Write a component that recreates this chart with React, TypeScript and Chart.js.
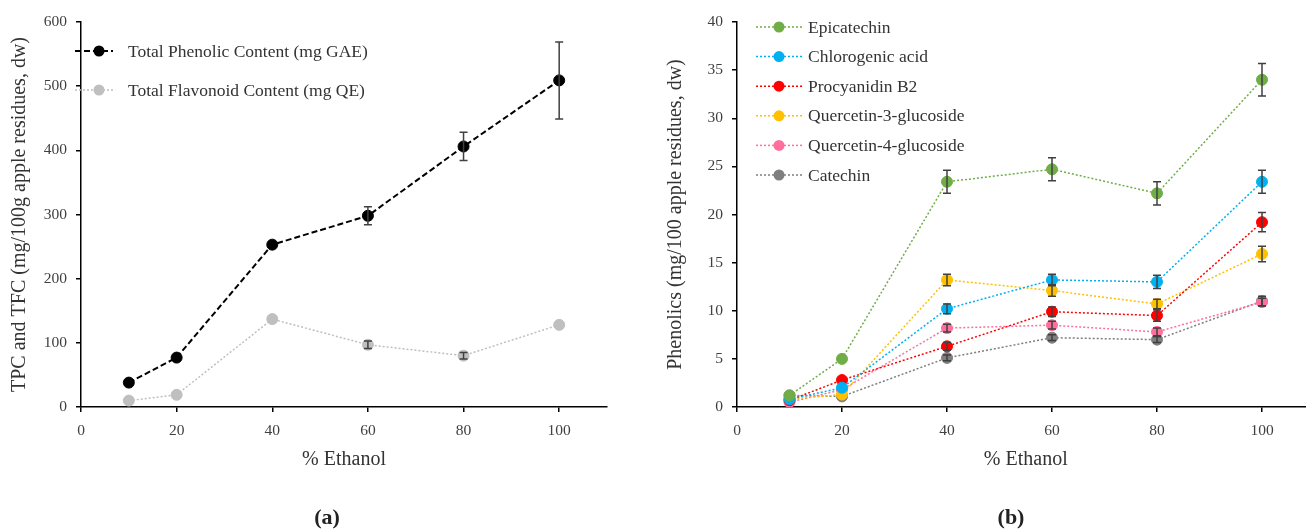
import React, { useEffect, useRef } from 'react';
import { Chart, registerables } from 'chart.js';

Chart.register(...registerables);

// ---------- data ----------
const ethanol = [10, 20, 40, 60, 80, 100];
const xTickValues = [0, 20, 40, 60, 80, 100];

const leftLabels = ['Total Phenolic Content (mg GAE)', 'Total Flavonoid Content (mg QE)'];
const tpc = [38, 77, 253, 298, 406, 509];
const tpcErr = [0, 0, 0, 14, 22, 60];
const tfc = [10, 19, 137, 97, 80, 128];
const tfcErr = [0, 0, 0, 6, 5, 0];

const rightLabels = [
  'Epicatechin',
  'Chlorogenic acid',
  'Procyanidin B2',
  'Quercetin-3-glucoside',
  'Quercetin-4-glucoside',
  'Catechin',
];
const epicatechin = [1.2, 5.0, 23.4, 24.7, 22.2, 34.0];
const epicatechinErr = [0, 0, 1.2, 1.2, 1.2, 1.7];
const chlorogenic = [0.8, 2.0, 10.2, 13.2, 13.0, 23.4];
const chlorogenicErr = [0, 0, 0.5, 0.6, 0.7, 1.2];
const procyanidin = [0.7, 2.8, 6.3, 9.9, 9.5, 19.2];
const procyanidinErr = [0, 0, 0.4, 0.5, 0.6, 1.0];
const q3g = [0.8, 1.3, 13.2, 12.1, 10.7, 15.9];
const q3gErr = [0, 0, 0.6, 0.6, 0.5, 0.8];
const q4g = [0.5, 1.8, 8.2, 8.5, 7.8, 10.9];
const q4gErr = [0, 0, 0.4, 0.4, 0.4, 0.4];
const catechin = [1.2, 1.1, 5.1, 7.2, 7.0, 11.0];
const catechinErr = [0, 0, 0.3, 0.3, 0.3, 0.5];

const leftYLabel = 'TPC and TFC (mg/100g apple residues, dw)';
const rightYLabel = 'Phenolics (mg/100 apple residues, dw)';
const xLabel = '% Ethanol';

// ---------- styles ----------
const FONT = "'Liberation Serif', 'Times New Roman', serif";
const TEXT = '#333333';
const TICK_TEXT = '#404040';

const rightColors = ['#70AD47', '#00B0F0', '#FF0000', '#FFC000', '#FF6F9C', '#7F7F7F'];

function toXY(ys: number[]) {
  return ethanol.map((x, i) => ({ x, y: ys[i] }));
}

const errorBarPlugin = {
  id: 'errorBars',
  afterDatasetsDraw(chart: any) {
    const ctx = chart.ctx;
    const ys = chart.scales.y;
    ctx.save();
    ctx.strokeStyle = '#404040';
    ctx.lineWidth = 1.5;
    ctx.setLineDash([]);
    chart.data.datasets.forEach((ds: any, i: number) => {
      const meta = chart.getDatasetMeta(i);
      const errs: number[] = ds.errors || [];
      meta.data.forEach((pt: any, j: number) => {
        const e = errs[j];
        if (!e) return;
        const v = ds.data[j].y;
        const x = pt.x;
        const y1 = ys.getPixelForValue(v + e);
        const y2 = ys.getPixelForValue(v - e);
        ctx.beginPath();
        ctx.moveTo(x, y1);
        ctx.lineTo(x, y2);
        ctx.moveTo(x - 4, y1);
        ctx.lineTo(x + 4, y1);
        ctx.moveTo(x - 4, y2);
        ctx.lineTo(x + 4, y2);
        ctx.stroke();
      });
    });
    ctx.restore();
  },
};

type LegendRow = { label: string; color: string; dash: number[]; width: number; y: number };

function makeDecorPlugin(
  rows: LegendRow[],
  lineX0: number,
  lineX1: number,
  markerX: number,
  textX: number,
  caption: string,
  capX: number,
  capY: number
) {
  return {
    id: 'decor',
    afterDraw(chart: any) {
      const ctx = chart.ctx;
      ctx.save();
      rows.forEach((r) => {
        ctx.beginPath();
        ctx.strokeStyle = r.color;
        ctx.lineWidth = r.width;
        ctx.setLineDash(r.dash);
        ctx.moveTo(lineX0, r.y);
        ctx.lineTo(lineX1, r.y);
        ctx.stroke();
        ctx.setLineDash([]);
        ctx.beginPath();
        ctx.fillStyle = r.color;
        ctx.arc(markerX, r.y, 5.5, 0, Math.PI * 2);
        ctx.fill();
        ctx.fillStyle = TEXT;
        ctx.font = `17.5px ${FONT}`;
        ctx.textAlign = 'left';
        ctx.textBaseline = 'middle';
        ctx.fillText(r.label, textX, r.y + 1);
      });
      ctx.fillStyle = '#222';
      ctx.font = `bold 22px ${FONT}`;
      ctx.textAlign = 'center';
      ctx.textBaseline = 'middle';
      ctx.fillText(caption, capX, capY);
      ctx.restore();
    },
  };
}

function axes(yMax: number, yStep: number, yTitle: string) {
  return {
    x: {
      type: 'linear',
      min: 0,
      max: 110,
      afterBuildTicks: (s: any) => {
        s.ticks = xTickValues.map((v) => ({ value: v }));
      },
      afterFit: (s: any) => {
        s.height = 122;
      },
      ticks: {
        font: { family: FONT, size: 15.5 },
        color: TICK_TEXT,
        padding: 10,
        maxRotation: 0,
        autoSkip: false,
      },
      grid: { drawOnChartArea: false, drawTicks: true, tickLength: 5, color: '#000', lineWidth: 1.5 },
      border: { display: true, color: '#000', width: 1.5 },
      title: {
        display: true,
        text: xLabel,
        font: { family: FONT, size: 20 },
        color: TEXT,
        padding: { top: 0, bottom: 57 },
      },
    },
    y: {
      type: 'linear',
      min: 0,
      max: yMax,
      afterFit: (s: any) => {
        s.width = 81;
      },
      ticks: {
        stepSize: yStep,
        font: { family: FONT, size: 15.5 },
        color: TICK_TEXT,
        padding: 9,
      },
      grid: { drawOnChartArea: false, drawTicks: true, tickLength: 5, color: '#000', lineWidth: 1.5 },
      border: { display: true, color: '#000', width: 1.5 },
      title: {
        display: true,
        text: yTitle,
        font: { family: FONT, size: 20 },
        color: TEXT,
        padding: { top: 8, bottom: 0 },
      },
    },
  };
}

export default function App() {
  const leftRef = useRef<HTMLCanvasElement>(null);
  const rightRef = useRef<HTMLCanvasElement>(null);

  useEffect(() => {
    const leftSeries = [
      { label: leftLabels[0], data: tpc, err: tpcErr, color: '#000000', dash: [6, 3], width: 2 },
      { label: leftLabels[1], data: tfc, err: tfcErr, color: '#BFBFBF', dash: [2, 2], width: 1.5 },
    ];
    const leftChart = new Chart(leftRef.current as HTMLCanvasElement, {
      type: 'line',
      data: {
        datasets: leftSeries.map((s) => ({
          label: s.label,
          data: toXY(s.data),
          errors: s.err,
          borderColor: s.color,
          backgroundColor: s.color,
          borderWidth: s.width,
          borderDash: s.dash,
          pointRadius: 5.5,
          pointBackgroundColor: s.color,
          pointBorderColor: s.color,
          pointBorderWidth: 1,
          tension: 0,
          fill: false,
        })) as any,
      },
      options: {
        responsive: false,
        animation: false,
        layout: { padding: { top: 22, right: 33, left: 0, bottom: 0 } },
        plugins: { legend: { display: false }, tooltip: { enabled: false } },
        scales: axes(600, 100, leftYLabel) as any,
      },
      plugins: [
        errorBarPlugin,
        makeDecorPlugin(
          leftSeries.map((s, i) => ({ label: s.label, color: s.color, dash: s.dash, width: s.width, y: 51 + i * 39 })),
          75,
          113,
          99,
          128,
          '(a)',
          327,
          518
        ),
      ],
    });

    const rightData = [epicatechin, chlorogenic, procyanidin, q3g, q4g, catechin];
    const rightErr = [epicatechinErr, chlorogenicErr, procyanidinErr, q3gErr, q4gErr, catechinErr];
    const rightChart = new Chart(rightRef.current as HTMLCanvasElement, {
      type: 'line',
      data: {
        datasets: rightLabels.map((label, i) => ({
          label,
          data: toXY(rightData[i]),
          errors: rightErr[i],
          borderColor: rightColors[i],
          backgroundColor: rightColors[i],
          borderWidth: 1.5,
          borderDash: [2, 2],
          pointRadius: 5.5,
          pointBackgroundColor: rightColors[i],
          pointBorderColor: rightColors[i],
          pointBorderWidth: 1,
          tension: 0,
          fill: false,
        })) as any,
      },
      options: {
        responsive: false,
        animation: false,
        layout: { padding: { top: 22, right: 11.5, left: 0, bottom: 0 } },
        plugins: { legend: { display: false }, tooltip: { enabled: false } },
        scales: axes(40, 5, rightYLabel) as any,
      },
      plugins: [
        errorBarPlugin,
        makeDecorPlugin(
          rightLabels.map((label, i) => ({ label, color: rightColors[i], dash: [2, 2], width: 1.5, y: 27 + i * 29.6 })),
          100,
          146,
          123,
          152,
          '(b)',
          355,
          518
        ),
      ],
    });

    return () => {
      leftChart.destroy();
      rightChart.destroy();
    };
  }, []);

  return (
    <div
      style={{
        position: 'fixed',
        left: 0,
        top: 0,
        width: 1306,
        height: 529,
        overflow: 'hidden',
        background: '#ffffff',
      }}
    >
      <canvas ref={leftRef} width={640} height={529} style={{ position: 'absolute', left: 0, top: 0 }} />
      <canvas ref={rightRef} width={670} height={529} style={{ position: 'absolute', left: 656, top: 0 }} />
    </div>
  );
}
